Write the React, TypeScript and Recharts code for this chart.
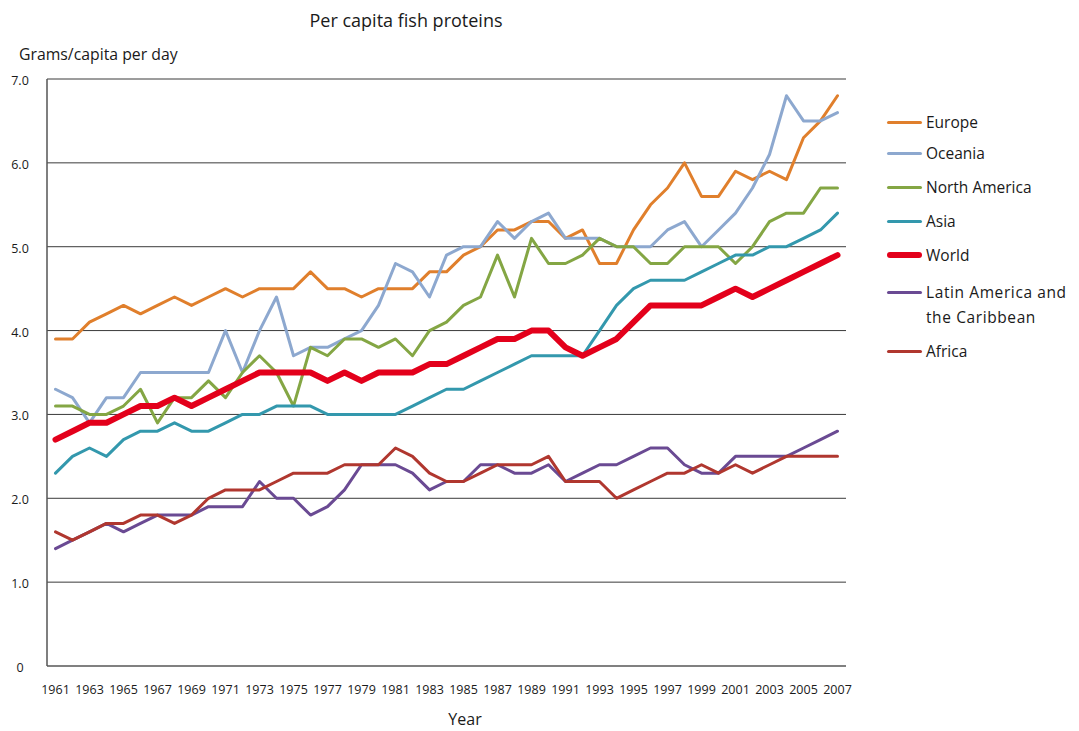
import React from 'react';
import { LineChart, Line, XAxis, YAxis, CartesianGrid } from 'recharts';

const years = [
  '1961', '1962', '1963', '1964', '1965', '1966', '1967', '1968', '1969', '1970',
  '1971', '1972', '1973', '1974', '1975', '1976', '1977', '1978', '1979', '1980',
  '1981', '1982', '1983', '1984', '1985', '1986', '1987', '1988', '1989', '1990',
  '1991', '1992', '1993', '1994', '1995', '1996', '1997', '1998', '1999', '2000',
  '2001', '2002', '2003', '2004', '2005', '2006', '2007',
];

const europe = [
  3.9, 3.9, 4.1, 4.2, 4.3, 4.2, 4.3, 4.4, 4.3, 4.4,
  4.5, 4.4, 4.5, 4.5, 4.5, 4.7, 4.5, 4.5, 4.4, 4.5,
  4.5, 4.5, 4.7, 4.7, 4.9, 5.0, 5.2, 5.2, 5.3, 5.3,
  5.1, 5.2, 4.8, 4.8, 5.2, 5.5, 5.7, 6.0, 5.6, 5.6,
  5.9, 5.8, 5.9, 5.8, 6.3, 6.5, 6.8,
];

const oceania = [
  3.3, 3.2, 2.9, 3.2, 3.2, 3.5, 3.5, 3.5, 3.5, 3.5,
  4.0, 3.5, 4.0, 4.4, 3.7, 3.8, 3.8, 3.9, 4.0, 4.3,
  4.8, 4.7, 4.4, 4.9, 5.0, 5.0, 5.3, 5.1, 5.3, 5.4,
  5.1, 5.1, 5.1, 5.0, 5.0, 5.0, 5.2, 5.3, 5.0, 5.2,
  5.4, 5.7, 6.1, 6.8, 6.5, 6.5, 6.6,
];

const northAmerica = [
  3.1, 3.1, 3.0, 3.0, 3.1, 3.3, 2.9, 3.2, 3.2, 3.4,
  3.2, 3.5, 3.7, 3.5, 3.1, 3.8, 3.7, 3.9, 3.9, 3.8,
  3.9, 3.7, 4.0, 4.1, 4.3, 4.4, 4.9, 4.4, 5.1, 4.8,
  4.8, 4.9, 5.1, 5.0, 5.0, 4.8, 4.8, 5.0, 5.0, 5.0,
  4.8, 5.0, 5.3, 5.4, 5.4, 5.7, 5.7,
];

const asia = [
  2.3, 2.5, 2.6, 2.5, 2.7, 2.8, 2.8, 2.9, 2.8, 2.8,
  2.9, 3.0, 3.0, 3.1, 3.1, 3.1, 3.0, 3.0, 3.0, 3.0,
  3.0, 3.1, 3.2, 3.3, 3.3, 3.4, 3.5, 3.6, 3.7, 3.7,
  3.7, 3.7, 4.0, 4.3, 4.5, 4.6, 4.6, 4.6, 4.7, 4.8,
  4.9, 4.9, 5.0, 5.0, 5.1, 5.2, 5.4,
];

const world = [
  2.7, 2.8, 2.9, 2.9, 3.0, 3.1, 3.1, 3.2, 3.1, 3.2,
  3.3, 3.4, 3.5, 3.5, 3.5, 3.5, 3.4, 3.5, 3.4, 3.5,
  3.5, 3.5, 3.6, 3.6, 3.7, 3.8, 3.9, 3.9, 4.0, 4.0,
  3.8, 3.7, 3.8, 3.9, 4.1, 4.3, 4.3, 4.3, 4.3, 4.4,
  4.5, 4.4, 4.5, 4.6, 4.7, 4.8, 4.9,
];

const latinAmerica = [
  1.4, 1.5, 1.6, 1.7, 1.6, 1.7, 1.8, 1.8, 1.8, 1.9,
  1.9, 1.9, 2.2, 2.0, 2.0, 1.8, 1.9, 2.1, 2.4, 2.4,
  2.4, 2.3, 2.1, 2.2, 2.2, 2.4, 2.4, 2.3, 2.3, 2.4,
  2.2, 2.3, 2.4, 2.4, 2.5, 2.6, 2.6, 2.4, 2.3, 2.3,
  2.5, 2.5, 2.5, 2.5, 2.6, 2.7, 2.8,
];

const africa = [
  1.6, 1.5, 1.6, 1.7, 1.7, 1.8, 1.8, 1.7, 1.8, 2.0,
  2.1, 2.1, 2.1, 2.2, 2.3, 2.3, 2.3, 2.4, 2.4, 2.4,
  2.6, 2.5, 2.3, 2.2, 2.2, 2.3, 2.4, 2.4, 2.4, 2.5,
  2.2, 2.2, 2.2, 2.0, 2.1, 2.2, 2.3, 2.3, 2.4, 2.3,
  2.4, 2.3, 2.4, 2.5, 2.5, 2.5, 2.5,
];

const yTicks = [0, 1, 2, 3, 4, 5, 6, 7];

const series = [
  { key: 'europe', name: 'Europe', color: '#E07F2C', width: 3, values: europe },
  { key: 'oceania', name: 'Oceania', color: '#8DA8CF', width: 3, values: oceania },
  { key: 'northAmerica', name: 'North America', color: '#84A644', width: 3, values: northAmerica },
  { key: 'asia', name: 'Asia', color: '#3398AD', width: 3, values: asia },
  { key: 'world', name: 'World', color: '#E3001B', width: 6, values: world },
  { key: 'latinAmerica', name: 'Latin America and the Caribbean', color: '#6A4A93', width: 3, values: latinAmerica },
  { key: 'africa', name: 'Africa', color: '#B0372F', width: 3, values: africa },
];

const data = years.map((year, i) => {
  const row: Record<string, string | number> = { year };
  series.forEach((s) => {
    row[s.key] = s.values[i];
  });
  return row;
});

const FONT = '"Open Sans", "Noto Sans", sans-serif';
const TEXT = '#1a1a1a';

const YTick = (props: any) => {
  const { y, payload } = props;
  const v = payload.value as number;
  return (
    <text x={20} y={y + 6} textAnchor="middle" fontSize={12.5} fill={TEXT} fontFamily={FONT}>
      {v === 0 ? '0' : v.toFixed(1)}
    </text>
  );
};

const legendRows = [
  { key: 'europe', lines: ['Europe'], top: 110 },
  { key: 'oceania', lines: ['Oceania'], top: 141 },
  { key: 'northAmerica', lines: ['North America'], top: 175 },
  { key: 'asia', lines: ['Asia'], top: 209 },
  { key: 'world', lines: ['World'], top: 243 },
  { key: 'latinAmerica', lines: ['Latin America and', 'the Caribbean'], top: 280 },
  { key: 'africa', lines: ['Africa'], top: 339 },
];

export default function App() {
  return (
    <div style={{ position: 'absolute', left: 0, top: 0, width: 1079, height: 731, background: '#fff', fontFamily: FONT }}>
      <div style={{ position: 'absolute', left: 0, top: 8, width: 812, textAlign: 'center', fontSize: 18, color: TEXT, lineHeight: '24px' }}>
        Per capita fish proteins
      </div>
      <div style={{ position: 'absolute', left: 19, top: 42, fontSize: 15.8, color: TEXT, lineHeight: '24px', whiteSpace: 'nowrap' }}>
        Grams/capita per day
      </div>
      <div style={{ position: 'absolute', left: 365, top: 707, width: 200, textAlign: 'center', fontSize: 16, color: TEXT, lineHeight: '24px' }}>
        Year
      </div>
      <LineChart
        width={1079}
        height={731}
        data={data}
        margin={{ top: 79, right: 233, bottom: 35, left: 0 }}
      >
        <CartesianGrid horizontal={true} vertical={false} stroke="#3a3a3a" strokeWidth={1} />
        <XAxis
          dataKey="year"
          interval={1}
          padding={{ left: 8.5, right: 8.5 }}
          tickLine={false}
          tickSize={6}
          tickMargin={13}
          height={30}
          axisLine={{ stroke: '#777', strokeWidth: 1.5 }}
          tick={{ fontSize: 12.5, fill: TEXT, fontFamily: FONT }}
        />
        <YAxis
          type="number"
          domain={[0, 7]}
          ticks={yTicks}
          width={47}
          tickLine={false}
          axisLine={{ stroke: '#555', strokeWidth: 1.5 }}
          tick={<YTick />}
          interval={0}
        />
        {series.map((s) => (
          <Line
            key={s.key}
            type="linear"
            dataKey={s.key}
            name={s.name}
            stroke={s.color}
            strokeWidth={s.width}
            dot={false}
            activeDot={false}
            strokeLinejoin="round"
            strokeLinecap="round"
            isAnimationActive={false}
          />
        ))}
      </LineChart>
      {legendRows.map((row) => {
        const s = series.find((x) => x.key === row.key)!;
        return (
          <div key={row.key} style={{ position: 'absolute', left: 886, top: row.top }}>
            <div
              style={{
                position: 'absolute',
                left: 1,
                top: 12 - s.width / 2,
                width: 35,
                height: s.width,
                borderRadius: s.width / 2,
                background: s.color,
              }}
            />
            {row.lines.map((ln, i) => (
              <div
                key={i}
                style={{ position: 'absolute', left: 40, top: i * 25, fontSize: 15.5, lineHeight: '24px', color: TEXT, whiteSpace: 'nowrap', letterSpacing: row.key === 'latinAmerica' ? 0.6 : 0 }}
              >
                {ln}
              </div>
            ))}
          </div>
        );
      })}
    </div>
  );
}
